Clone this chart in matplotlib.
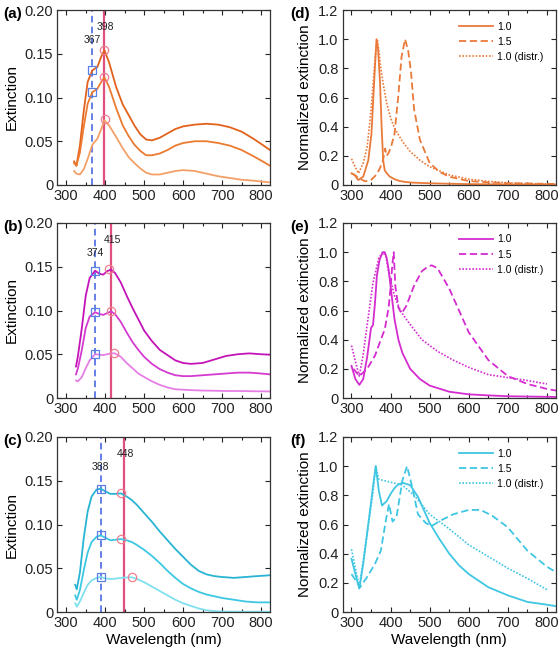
import matplotlib
matplotlib.use("Agg")
import matplotlib.pyplot as plt
from matplotlib.ticker import MultipleLocator, FixedLocator

plt.rcParams['font.family'] = ['Liberation Sans', 'DejaVu Sans']

# ---------------- data: left panels (extinction) ----------------
wl_a = [320, 326, 335, 345, 355, 367, 380, 390, 398, 410, 428, 445, 460, 475, 490, 505, 520,
        540, 560, 580, 600, 630, 660, 690, 720, 750, 780, 800, 823]
a_top = [0.027, 0.022, 0.045, 0.085, 0.118, 0.131, 0.135, 0.147, 0.154, 0.140, 0.112, 0.092,
         0.080, 0.068, 0.058, 0.052, 0.051, 0.054, 0.059, 0.064, 0.067, 0.069, 0.070, 0.069,
         0.066, 0.061, 0.053, 0.047, 0.040]
a_mid = [0.025, 0.022, 0.037, 0.067, 0.093, 0.106, 0.110, 0.118, 0.123, 0.112, 0.088, 0.068,
         0.056, 0.046, 0.039, 0.034, 0.034, 0.036, 0.040, 0.045, 0.048, 0.050, 0.050, 0.048,
         0.045, 0.040, 0.033, 0.028, 0.022]
a_low = [0.016, 0.013, 0.012, 0.018, 0.030, 0.046, 0.053, 0.064, 0.074, 0.068, 0.055, 0.042,
         0.032, 0.025, 0.019, 0.014, 0.012, 0.012, 0.014, 0.016, 0.017, 0.016, 0.013, 0.010,
         0.008, 0.006, 0.005, 0.004, 0.003]
a_sq_x = [367, 367]
a_sq_y = [0.131, 0.106]
a_ci_x = [398, 398, 400]
a_ci_y = [0.154, 0.123, 0.075]
a_lines = [367, 398]

wl_b = [325, 330, 340, 350, 360, 374, 385, 395, 405, 415, 425, 440, 455, 470, 485, 500, 520,
        540, 560, 580, 600, 620, 650, 680, 710, 740, 770, 800, 823]
b_top = [0.036, 0.048, 0.080, 0.117, 0.137, 0.1455, 0.142, 0.141, 0.145, 0.1467, 0.143, 0.132,
         0.117, 0.103, 0.090, 0.077, 0.065, 0.055, 0.049, 0.043, 0.040, 0.039, 0.040, 0.044,
         0.048, 0.050, 0.051, 0.050, 0.0495]
b_mid = [0.027, 0.034, 0.055, 0.080, 0.093, 0.098, 0.096, 0.095, 0.097, 0.099, 0.096, 0.087,
         0.075, 0.064, 0.055, 0.047, 0.039, 0.033, 0.029, 0.026, 0.025, 0.025, 0.026, 0.027,
         0.028, 0.029, 0.029, 0.028, 0.027]
b_low = [0.020, 0.019, 0.024, 0.034, 0.043, 0.050, 0.0495, 0.049, 0.050, 0.051, 0.051, 0.047,
         0.040, 0.034, 0.028, 0.024, 0.019, 0.015, 0.012, 0.010, 0.0095, 0.009, 0.0085, 0.0083,
         0.008, 0.008, 0.0078, 0.0076, 0.0075]
b_sq_x = [374, 374, 374]
b_sq_y = [0.1455, 0.098, 0.050]
b_ci_x = [410, 414, 422]
b_ci_y = [0.147, 0.099, 0.051]
b_lines = [374, 415]

wl_c = [323, 327, 335, 345, 355, 365, 378, 388, 400, 413, 425, 440, 455, 468, 480, 500, 520,
        540, 560, 580, 600, 620, 640, 660, 680, 700, 730, 760, 790, 823]
c_top = [0.031, 0.026, 0.045, 0.085, 0.115, 0.132, 0.140, 0.141, 0.138, 0.135, 0.135, 0.1356,
         0.132, 0.128, 0.123, 0.113, 0.103, 0.092, 0.082, 0.072, 0.063, 0.054, 0.047, 0.043,
         0.041, 0.040, 0.039, 0.040, 0.041, 0.042]
c_mid = [0.019, 0.014, 0.025, 0.048, 0.068, 0.080, 0.086, 0.0876, 0.085, 0.082, 0.0825, 0.0834,
         0.082, 0.080, 0.077, 0.071, 0.064, 0.056, 0.047, 0.039, 0.032, 0.027, 0.023, 0.020,
         0.018, 0.016, 0.014, 0.012, 0.011, 0.011]
c_low = [0.010, 0.006, 0.012, 0.022, 0.031, 0.036, 0.039, 0.040, 0.0385, 0.0377, 0.038, 0.039,
         0.0395, 0.0397, 0.038, 0.034, 0.029, 0.024, 0.019, 0.014, 0.010, 0.007, 0.004, 0.002,
         0.001, 0.0005, 0.0003, 0.0003, 0.0003, 0.0003]
c_sq_x = [388, 388, 388]
c_sq_y = [0.141, 0.0876, 0.040]
c_ci_x = [440, 440, 468]
c_ci_y = [0.1356, 0.0834, 0.0397]
c_lines = [388, 448]

# ---------------- data: right panels (normalized) ----------------
d_sol_x = [300, 308, 317, 330, 343, 351, 360, 364, 368, 373, 377, 381, 385, 392, 398, 410, 424,
           440, 458, 500, 543, 600, 650, 700, 750, 800, 825]
d_sol_y = [0.08, 0.069, 0.034, 0.057, 0.17, 0.35, 0.81, 1.0, 0.93, 0.70, 0.40, 0.17, 0.10, 0.075,
           0.057, 0.04, 0.027, 0.02, 0.016, 0.012, 0.009, 0.006, 0.005, 0.004, 0.003, 0.003, 0.003]
d_das_x = [300, 310, 320, 335, 350, 360, 370, 380, 386, 390, 395, 402, 410, 420, 428, 437, 445,
           452, 460, 475, 500, 525, 550, 600, 650, 700, 750, 800, 825]
d_das_y = [0.08, 0.065, 0.045, 0.025, 0.035, 0.06, 0.10, 0.16, 0.25, 0.20, 0.22, 0.27, 0.35,
           0.62, 0.88, 1.0, 0.92, 0.78, 0.52, 0.31, 0.15, 0.09, 0.057, 0.027, 0.018, 0.012, 0.01,
           0.008, 0.007]
d_dot_x = [300, 310, 318, 330, 340, 350, 357, 362, 366, 370, 375, 382, 390, 400, 410, 430, 450,
           475, 500, 550, 600, 650, 700, 750, 800]
d_dot_y = [0.18, 0.12, 0.08, 0.15, 0.26, 0.51, 0.75, 0.92, 1.0, 0.92, 0.80, 0.68, 0.56, 0.46,
           0.39, 0.30, 0.23, 0.17, 0.125, 0.069, 0.04, 0.025, 0.015, 0.01, 0.007]

e_sol_x = [300, 310, 320, 330, 340, 345, 350, 355, 360, 365, 372, 380, 385, 390, 395, 402, 410,
           420, 430, 450, 475, 500, 550, 600, 650, 700, 750, 800, 825]
e_sol_y = [0.22, 0.13, 0.09, 0.13, 0.28, 0.38, 0.48, 0.50, 0.65, 0.84, 0.95, 1.0, 1.0, 0.96,
           0.88, 0.72, 0.54, 0.40, 0.31, 0.20, 0.13, 0.085, 0.043, 0.025, 0.018, 0.012, 0.010,
           0.008, 0.007]
e_das_x = [305, 320, 340, 360, 375, 385, 395, 400, 404, 408, 412, 420, 428, 440, 460, 480, 495,
           505, 520, 550, 600, 650, 700, 750, 800, 825]
e_das_y = [0.20, 0.15, 0.20, 0.29, 0.40, 0.47, 0.62, 0.76, 0.90, 1.0, 0.77, 0.62, 0.58, 0.63,
           0.77, 0.87, 0.90, 0.91, 0.89, 0.75, 0.45, 0.26, 0.15, 0.096, 0.062, 0.05]
e_dot_x = [300, 310, 320, 330, 340, 355, 370, 380, 388, 395, 410, 425, 440, 460, 480, 520, 560,
           600, 650, 700, 750, 800]
e_dot_y = [0.36, 0.25, 0.15, 0.30, 0.50, 0.79, 0.96, 1.0, 0.97, 0.86, 0.70, 0.60, 0.54, 0.47,
           0.40, 0.32, 0.26, 0.21, 0.16, 0.14, 0.12, 0.096]

f_sol_x = [300, 310, 320, 330, 340, 350, 355, 362, 370, 378, 390, 400, 410, 420, 432, 450, 470,
           485, 500, 525, 550, 575, 600, 650, 700, 750, 800, 825]
f_sol_y = [0.366, 0.26, 0.16, 0.33, 0.54, 0.75, 0.86, 1.0, 0.83, 0.73, 0.76, 0.81, 0.85, 0.875,
           0.885, 0.87, 0.79, 0.70, 0.61, 0.50, 0.40, 0.32, 0.26, 0.17, 0.114, 0.069, 0.05, 0.039]
f_das_x = [300, 310, 322, 340, 360, 375, 388, 396, 405, 415, 430, 442, 455, 470, 490, 505, 530,
           560, 600, 630, 660, 700, 750, 800, 825]
f_das_y = [0.26, 0.22, 0.17, 0.24, 0.33, 0.42, 0.63, 0.74, 0.62, 0.65, 0.90, 1.0, 0.86, 0.67,
           0.61, 0.59, 0.63, 0.67, 0.70, 0.70, 0.66, 0.58, 0.42, 0.31, 0.27]
f_dot_x = [300, 310, 320, 340, 355, 362, 370, 400, 430, 460, 500, 550, 600, 650, 700, 750, 800]
f_dot_y = [0.43, 0.30, 0.17, 0.54, 0.82, 1.0, 0.91, 0.89, 0.87, 0.80, 0.67, 0.57, 0.46, 0.38,
           0.30, 0.23, 0.153]

legend_labels = ['1.0', '1.5', '1.0 (distr.)']
left_yticks = [0, 0.05, 0.10, 0.15, 0.20]
left_yticklabels = ['0', '0.05', '0.10', '0.15', '0.20']
right_yticks = [0, 0.2, 0.4, 0.6, 0.8, 1.0, 1.2]
right_yticklabels = ['0', '0.2', '0.4', '0.6', '0.8', '1.0', '1.2']
xticks = [300, 400, 500, 600, 700, 800]

# ---------------- styling ----------------
W, H = 559, 647
fig = plt.figure(figsize=(W / 100, H / 100), dpi=100)

BLUE = '#4a6ae0'
PINK = '#e0507e'
SQ = '#5b80e4'
CI = '#ef7f90'

left_cols = [['#e2621c', '#ec7a30', '#f3a068'],
             ['#c414b8', '#d53ad0', '#e67fe5'],
             ['#28b4d2', '#3cc8e2', '#80e0ee']]
right_cols = ['#ea7a3a', '#d42ccf', '#3fc6e2']

rows_px = [(10, 185), (223, 398), (437, 612)]
L_left, L_right = 57.3, 270
R_left, R_right = 342.5, 556


def px_axes(x0, x1, y0, y1):
    return fig.add_axes([x0 / W, 1 - y1 / H, (x1 - x0) / W, (y1 - y0) / H])


def style(ax):
    ax.tick_params(direction='in', top=True, right=True, which='both', labelsize=10.5,
                   colors='#222222', length=3.5, width=0.8, pad=3)
    ax.tick_params(which='minor', length=2.2)
    for s in ax.spines.values():
        s.set_color('#333333')
        s.set_linewidth(0.9)
    ax.set_xlim(277, 823)
    ax.xaxis.set_major_locator(FixedLocator(xticks))
    ax.xaxis.set_minor_locator(MultipleLocator(50))
    ax.set_xticklabels([str(t) for t in xticks])


left_data = [
    (wl_a, [a_top, a_mid, a_low], a_sq_x, a_sq_y, a_ci_x, a_ci_y, a_lines),
    (wl_b, [b_top, b_mid, b_low], b_sq_x, b_sq_y, b_ci_x, b_ci_y, b_lines),
    (wl_c, [c_top, c_mid, c_low], c_sq_x, c_sq_y, c_ci_x, c_ci_y, c_lines),
]
right_data = [
    ((d_sol_x, d_sol_y), (d_das_x, d_das_y), (d_dot_x, d_dot_y)),
    ((e_sol_x, e_sol_y), (e_das_x, e_das_y), (e_dot_x, e_dot_y)),
    ((f_sol_x, f_sol_y), (f_das_x, f_das_y), (f_dot_x, f_dot_y)),
]
left_letters = ['(a)', '(b)', '(c)']
right_letters = ['(d)', '(e)', '(f)']

for i, (y0, y1) in enumerate(rows_px):
    # ----- left panel -----
    ax = px_axes(L_left, L_right, y0, y1)
    wl, curves, sqx, sqy, cix, ciy, lines = left_data[i]
    ax.axvline(lines[0], color=BLUE, lw=1.2, ls=(0, (4, 2.5)), zorder=1)
    ax.axvline(lines[1], color=PINK, lw=1.6, zorder=1)
    for c, col in zip(curves, left_cols[i]):
        ax.plot(wl, c, color=col, lw=1.3, zorder=2)
    ax.plot(sqx, sqy, ls='none', marker='s', ms=5.5, mfc='none', mec=SQ, mew=0.9, zorder=3)
    ax.plot(cix, ciy, ls='none', marker='o', ms=6, mfc='none', mec=CI, mew=0.9, zorder=3)
    ax.text(lines[0], 0.166, str(lines[0]), ha='center', va='center', fontsize=7.5,
            color='#222222')
    ax.text(lines[1] + 3, 0.181, str(lines[1]), ha='center', va='center', fontsize=7.5,
            color='#222222')
    style(ax)
    ax.set_ylim(0, 0.20)
    ax.set_yticks(left_yticks)
    ax.set_yticklabels(left_yticklabels)
    ax.set_ylabel('Extinction', fontsize=11, labelpad=4)
    fig.text(3 / W, 1 - (y0 + 4) / H, left_letters[i], fontsize=11, fontweight='bold',
             ha='left', va='center')
    if i == 2:
        ax.set_xlabel('Wavelength (nm)', fontsize=11, labelpad=2)

    # ----- right panel -----
    ax = px_axes(R_left, R_right, y0, y1)
    (sx, sy), (dx, dy), (ox, oy) = right_data[i]
    col = right_cols[i]
    ax.plot(sx, sy, color=col, lw=1.3, ls='-', label=legend_labels[0])
    ax.plot(dx, dy, color=col, lw=1.3, ls=(0, (4, 2)), label=legend_labels[1])
    ax.plot(ox, oy, color=col, lw=1.2, ls=(0, (1, 1)), label=legend_labels[2])
    style(ax)
    ax.set_ylim(0, 1.2)
    ax.set_yticks(right_yticks)
    ax.set_yticklabels(right_yticklabels)
    ax.set_ylabel('Normalized extinction', fontsize=11, labelpad=4)
    leg = ax.legend(loc='upper right', bbox_to_anchor=(0.97, 0.97), frameon=False,
                    fontsize=7.5, handlelength=3.2, handletextpad=0.4, labelspacing=0.5,
                    borderaxespad=0.2)
    fig.text(290 / W, 1 - (y0 + 4) / H, right_letters[i], fontsize=11, fontweight='bold',
             ha='left', va='center')
    if i == 2:
        ax.set_xlabel('Wavelength (nm)', fontsize=11, labelpad=2)

fig.savefig('out.png', dpi=100)
